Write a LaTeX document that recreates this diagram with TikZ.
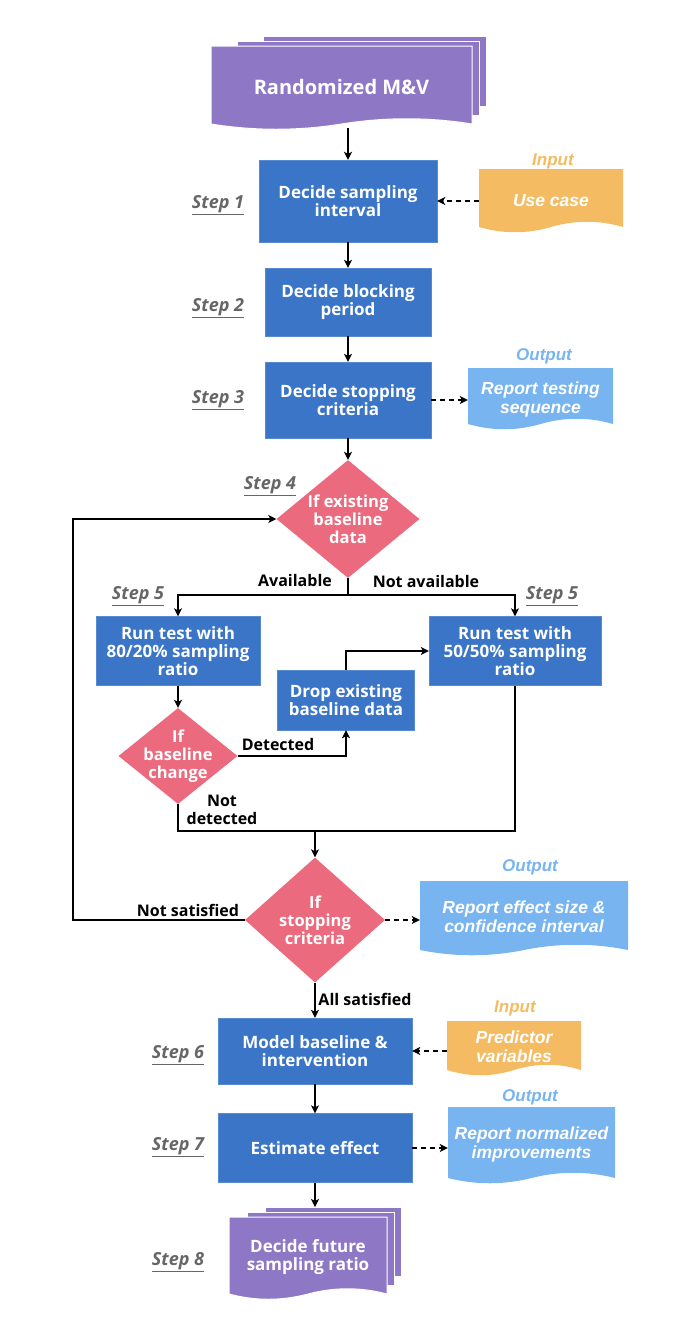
\documentclass[tikz,border=0pt]{standalone}
\usepackage{fontspec}
\setmainfont{Open Sans}
\newfontfamily\iofont{Liberation Sans}
\usepackage{xcolor}
\usepackage{tikz}
\usetikzlibrary{shapes,arrows.meta,positioning,calc}

\definecolor{mvpurple}{RGB}{142,119,197}
\definecolor{mvblue}{RGB}{58,117,200}
\definecolor{mvpink}{RGB}{236,106,126}
\definecolor{mvorange}{RGB}{244,187,99}
\definecolor{mvsky}{RGB}{120,180,240}
\definecolor{stepgray}{RGB}{102,102,102}

\newcommand{\boxfont}{\fontsize{17}{18}\selectfont\bfseries}
\newcommand{\decfont}{\fontsize{16.5}{18}\selectfont\bfseries}
\newcommand{\titlefont}{\fontsize{20}{22}\selectfont\bfseries}
\newcommand{\flowfont}{\fontsize{16}{18}\selectfont\bfseries}
\newcommand{\stepfont}{\fontsize{18}{20}\selectfont\bfseries\itshape}
\newcommand{\docfont}{\iofont\fontsize{17.5}{19}\selectfont\bfseries\itshape}
\newcommand{\labfont}{\iofont\fontsize{17}{19}\selectfont\bfseries\itshape}

% document with a wavy bottom: fill, x1, y1, x2, bottom
\newcommand{\wavedoc}[5]{%
  \pgfmathsetmacro{\wdw}{(#4-#2)/6}%
  \pgfmathsetmacro{\wdm}{(#2+#4)/2}%
  \filldraw[#1] (#2,#3) -- (#4,#3) -- (#4,#5)
    .. controls +(-\wdw,-7) and +(\wdw,-7) .. (\wdm,#5)
    .. controls +(-\wdw,7) and +(\wdw,7) .. (#2,#5) -- cycle;
}
% stack of three pages: x1, y1, x2, bottom, shift
\newcommand{\stackdoc}[5]{%
  \filldraw[fill=mvpurple, draw=white, line width=1pt] ({#1+2*#5},#2-10) rectangle (#3+14,#4-18);
  \filldraw[fill=mvpurple, draw=white, line width=1pt] ({#1+#5},#2-5) rectangle (#3+7,#4-9);
  \wavedoc{fill=mvpurple, draw=white, line width=1pt}{#1}{#2}{#3}{#4}
}

\begin{document}
\begin{tikzpicture}[x=1pt, y=-1pt,
    box/.style={rectangle, fill=mvblue, draw=mvblue!85!white, text=white, font=\boxfont, align=center, inner sep=0pt},
    dec/.style={diamond, fill=mvpink, inner sep=0pt},
    dectext/.style={text=white, font=\decfont, align=center},
    docnode/.style={inner sep=0pt, text=white, align=center},
    steplabel/.style={text=stepgray, font=\stepfont},
    inlabel/.style={text=mvorange, font=\labfont},
    outlabel/.style={text=mvsky, font=\labfont},
    flowlabel/.style={font=\flowfont, align=center},
    arr/.style={-{Stealth[length=8pt,width=8pt,inset=2pt]}, line width=1.3pt},
    dasharr/.style={arr, dash pattern=on 5pt off 4pt}]
    \useasboundingbox (0,0) rectangle (676,1326);

    % Document shapes
    \stackdoc{211}{46}{472}{124}{26}
    \wavedoc{fill=mvorange, draw=none}{479}{169}{623}{227}
    \wavedoc{fill=mvsky, draw=none}{468}{368}{613}{424}
    \wavedoc{fill=mvsky, draw=none}{420}{881}{628}{950}
    \wavedoc{fill=mvorange, draw=none}{447}{1021}{581}{1070}
    \wavedoc{fill=mvsky, draw=none}{448}{1107}{615}{1178}
    \stackdoc{229}{1217}{387}{1294}{18}

    % Main steps
    \node[docnode, font=\titlefont, minimum width=261pt, minimum height=82pt] (rmv) at (341.5,87) {Randomized M\&V};
    \node[box, minimum width=178pt, minimum height=82pt] (s1) at (348,201) {Decide sampling\\interval};
    \node[box, minimum width=166pt, minimum height=68pt] (s2) at (348,302) {Decide blocking\\period};
    \node[box, minimum width=166pt, minimum height=76pt] (s3) at (348,400) {Decide stopping\\criteria};
    \node[dec, minimum width=143pt, minimum height=118pt,
          label={[dectext]center:If existing\\baseline\\data}] (d4) at (348,519) {};
    \node[box, minimum width=164pt, minimum height=69pt] (run80) at (178,651) {Run test with\\80/20\% sampling\\ratio};
    \node[box, minimum width=172pt, minimum height=69pt] (run50) at (515,651) {Run test with\\50/50\% sampling\\ratio};
    \node[box, minimum width=137pt, minimum height=60pt] (drop) at (346,700) {Drop existing\\baseline data};
    \node[dec, minimum width=119pt, minimum height=96pt,
          label={[dectext]center:If\\baseline\\change}] (chg) at (178,756) {};
    \node[dec, minimum width=140pt, minimum height=125pt,
          label={[dectext]center:If\\stopping\\criteria}] (stop) at (315,920) {};
    \node[box, minimum width=194pt, minimum height=66pt] (s6) at (315,1051) {Model baseline \&\\intervention};
    \node[box, minimum width=194pt, minimum height=69pt] (s7) at (315,1148) {Estimate effect};
    \node[docnode, font=\boxfont, minimum width=158pt, minimum height=74pt] (fsr) at (308,1257) {Decide future\\sampling ratio};

    % Inputs and outputs
    \node[docnode, font=\docfont, minimum width=144pt, minimum height=64pt] (usecase) at (551,201) {Use case};
    \node[docnode, font=\docfont, minimum width=145pt, minimum height=60pt] (testseq) at (540.5,399) {Report testing\\sequence};
    \node[docnode, font=\docfont, minimum width=208pt, minimum height=70pt] (effect) at (524,917) {Report effect size \&\\confidence interval};
    \node[docnode, font=\docfont, minimum width=134pt, minimum height=50pt] (predictor) at (514,1047) {Predictor\\variables};
    \node[docnode, font=\docfont, minimum width=167pt, minimum height=70pt] (normalized) at (531.5,1144) {Report normalized\\improvements};

    \node[inlabel] (in1) at (553,161) {Input};
    \node[outlabel] (out1) at (544,356) {Output};
    \node[outlabel] (out2) at (530,867) {Output};
    \node[inlabel] (in2) at (515,1008) {Input};
    \node[outlabel] (out3) at (530,1097) {Output};

    % Step labels
    \node[steplabel] (l1) at (218,205) {\underline{Step 1}};
    \node[steplabel] (l2) at (218,308) {\underline{Step 2}};
    \node[steplabel] (l3) at (218,400) {\underline{Step 3}};
    \node[steplabel] (l4) at (270,486) {\underline{Step 4}};
    \node[steplabel] (l5a) at (138,596) {\underline{Step 5}};
    \node[steplabel] (l5b) at (552,596) {\underline{Step 5}};
    \node[steplabel] (l6) at (178,1055) {\underline{Step 6}};
    \node[steplabel] (l7) at (178,1147) {\underline{Step 7}};
    \node[steplabel] (l8) at (178,1262) {\underline{Step 8}};

    % Connections
    \coordinate (split) at (348,595);
    \coordinate (merge) at (315,831);
    \coordinate (loopcorner) at (73,920);
    \coordinate (fsrtop) at (315,1207);
    \draw[arr] (rmv.south -| s1.north) -- (s1.north);
    \draw[arr] (s1) -- (s2);
    \draw[arr] (s2) -- (s3);
    \draw[arr] (s3) -- (d4);
    \draw[line width=1.3pt] (d4.south) -- (split);
    \draw[arr] (split) -| (run80.north);
    \draw[arr] (split) -| (run50.north);
    \draw[arr] (run80) -- (chg);
    \draw[arr] (chg.east) -| (drop.south);
    \draw[arr] (drop.north) |- (run50.west);
    \draw[line width=1.3pt] (chg.south) |- (merge);
    \draw[line width=1.3pt] (run50.south) |- (merge);
    \draw[arr] (merge) -- (stop.north);
    \draw[arr] (stop.west) -- (loopcorner) |- (d4.west);
    \draw[arr] (stop) -- (s6);
    \draw[arr] (s6) -- (s7);
    \draw[arr] (s7.south) -- (fsrtop);

    % Dashed links
    \draw[dasharr] (usecase.west |- s1.east) -- (s1.east);
    \draw[dasharr] (s3.east) -- (testseq.west |- s3.east);
    \draw[dasharr] (stop.east) -- (effect.west |- stop.east);
    \draw[dasharr] (predictor.west |- s6.east) -- (s6.east);
    \draw[dasharr] (s7.east) -- (normalized.west |- s7.east);

    % Branch labels
    \node[flowlabel] (avail) at (295,580) {Available};
    \node[flowlabel] (notavail) at (426,581) {Not available};
    \node[flowlabel] (det) at (278,744) {Detected};
    \node[flowlabel] (notdet) at (222,810) {Not\\detected};
    \node[flowlabel] (notsat) at (188,910) {Not satisfied};
    \node[flowlabel] (allsat) at (365,999) {All satisfied};
\end{tikzpicture}
\end{document}
